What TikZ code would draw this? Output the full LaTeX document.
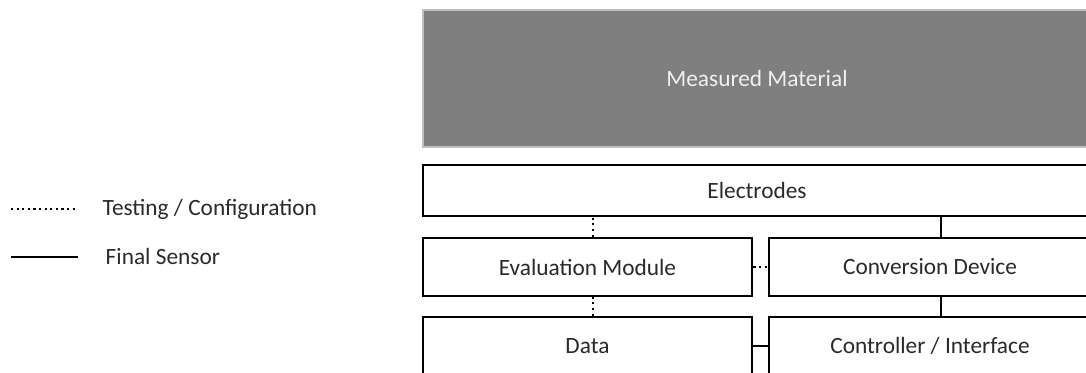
\documentclass[tikz,border=0pt]{standalone}
\usepackage{fontspec}
\setmainfont{Carlito}
\usepackage{tikz}

\definecolor{materialgray}{HTML}{7F7F7F}
\definecolor{textgray}{HTML}{2A2A2A}

\tikzset{
    label font/.style={font=\fontsize{17.5}{21}\selectfont},
    block/.style={draw=black, line width=2.05pt, fill=white, text=textgray,
        inner sep=0pt, label font},
    link/.style={line width=1.9pt},
    testlink/.style={line width=1.9pt, dash pattern=on 1.6pt off 2.6pt}
}

\begin{document}
\begin{tikzpicture}[x=0.75pt,y=-0.75pt]
            \useasboundingbox (0,0) rectangle (1086,372);
            \clip (0,0) rectangle (1086,372);

            \node[fill=materialgray, draw=black!25, line width=0.8pt, text=white!94!black,
                minimum width=668*0.75pt, minimum height=137*0.75pt, inner sep=0pt,
                label font] (material) at (757,78.5) {Measured Material};
            \node[block, minimum width=668*0.75pt, minimum height=51*0.75pt] (electrodes) at (757,190.5) {Electrodes};
            \node[block, minimum width=329*0.75pt, minimum height=58*0.75pt] (eval) at (587.5,267) {Evaluation Module};
            \node[block, minimum width=322*0.75pt, minimum height=58*0.75pt] (conv) at (930,267) {Conversion Device};
            \node[block, minimum width=329*0.75pt, minimum height=58*0.75pt] (data) at (587.5,346) {Data};
            \node[block, minimum width=322*0.75pt, minimum height=58*0.75pt] (ctrl) at (930,346) {Controller / Interface};

            \draw[testlink] ([xshift=4pt]eval.north) -- ([xshift=4pt]eval.north |- electrodes.south);
            \draw[testlink] ([xshift=4pt]data.north) -- ([xshift=4pt]eval.south);
            \draw[testlink] (eval.east) -- (conv.west);
            \draw[link] ([xshift=8.3pt]conv.north) -- ([xshift=8.3pt]conv.north |- electrodes.south);
            \draw[link] ([xshift=8.3pt]ctrl.north) -- ([xshift=8.3pt]conv.south);
            \draw[link] (data.east) -- (ctrl.west);

            \coordinate (testA) at (11,209);
            \coordinate (testB) at (78,209);
            \coordinate (finalA) at (11,257);
            \coordinate (finalB) at (78,257);
            \draw[testlink] (testA) -- (testB);
            \draw[link, line width=2.1pt] (finalA) -- (finalB);
            \node[anchor=west, text=textgray, label font] (testing) at (98,209) {Testing / Configuration};
            \node[anchor=west, text=textgray, label font] (final) at (101,256) {Final Sensor};
        \end{tikzpicture}
\end{document}
